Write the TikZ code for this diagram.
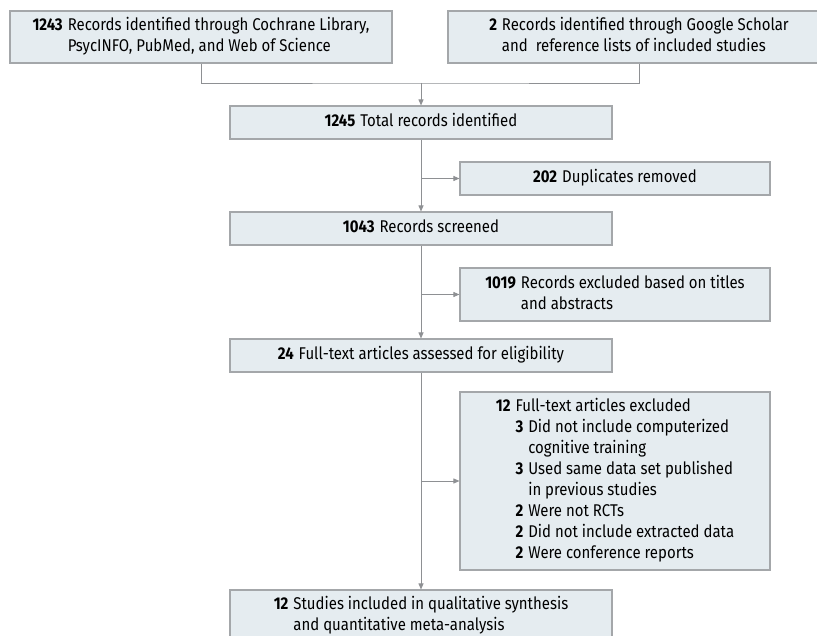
\documentclass[tikz,border=0pt]{standalone}
\usepackage{fontspec}
\setmainfont{Fira Sans}[FakeStretch=0.88]
\usetikzlibrary{positioning,arrows.meta}

\definecolor{boxfill}{HTML}{E5ECF0}
\definecolor{boxline}{HTML}{A4A7AA}
\definecolor{flowline}{HTML}{8E9093}

\newcommand{\recnum}[2]{\begin{tabular}{@{}r@{\hspace{5pt}}l@{}}\textbf{#1} & #2\end{tabular}}
\newcommand{\subrec}[2]{& \textbf{#1} & #2}

\tikzset{
  recbox/.style={rectangle, draw=boxline, line width=1.1pt, fill=boxfill, inner sep=0pt, minimum width=382pt, minimum height=33pt},
  sidebox/.style={recbox, minimum width=310pt},
  flow/.style={draw=flowline, line width=0.9pt},
  flowarr/.style={flow, -{Triangle[length=6pt,width=5pt]}}
}

\begin{document}
\begin{tikzpicture}[x=1pt, y=1pt, font=\fontsize{17}{21}\selectfont]
\useasboundingbox (0,0) rectangle (817,-636);
\clip (0,0) rectangle (817,-636);

% sources
\node (srcA) [recbox, minimum height=52pt] at (201,-37) {\recnum{1243}{Records identified through Cochrane Library,\\ & PsycINFO, PubMed, and Web of Science}};
\node (srcB) [recbox, minimum height=52pt] at (639,-37) {\recnum{2}{Records identified through Google Scholar\\ & and\ \ reference lists of included studies}};

\coordinate (join) at (421,-83);
\node (total) [recbox] at (421,-122.5) {\recnum{1245}{Total records identified}};
\node (dup) [sidebox] at (615,-178.5) {\recnum{202}{Duplicates removed}};
\node (screened) [recbox] at (421,-228.5) {\recnum{1043}{Records screened}};
\node (excA) [sidebox, minimum height=53pt] at (615,-294.5) {\recnum{1019}{Records excluded based on titles\\ & and abstracts}};
\node (full) [recbox] at (421,-355.5) {\recnum{24}{Full-text articles assessed for eligibility}};

% full-text exclusions
\node (excB) [sidebox, minimum height=178pt] at (615,-481) {%
  \begin{tabular}{@{}r@{\hspace{5pt}}r@{\hspace{5pt}}l@{}}
  \textbf{12} & \multicolumn{2}{@{}l@{}}{Full-text articles excluded}\\
  \subrec{3}{Did not include computerized}\\
  & & cognitive training\\
  \subrec{3}{Used same data set published}\\
  & & in previous studies\\
  \subrec{2}{Were not RCTs}\\
  \subrec{2}{Did not include extracted data}\\
  \subrec{2}{Were conference reports}
  \end{tabular}};

\node (incl) [recbox, minimum height=52pt] at (421,-616) {\recnum{12}{Studies included in qualitative synthesis\\ & and quantitative meta-analysis}};

% connectors
\draw[flow] (srcA.south) |- (join) -| (srcB.south);
\draw[flowarr] (join) -- (total);
\draw[flowarr] (total) -- (screened);
\draw[flowarr] (screened) -- (full);
\draw[flowarr] (full) -- (incl);
\draw[flowarr] (total.south |- dup.west) -- (dup.west);
\draw[flowarr] (total.south |- excA.west) -- (excA.west);
\draw[flowarr] (total.south |- excB.west) -- (excB.west);
\end{tikzpicture}
\end{document}
